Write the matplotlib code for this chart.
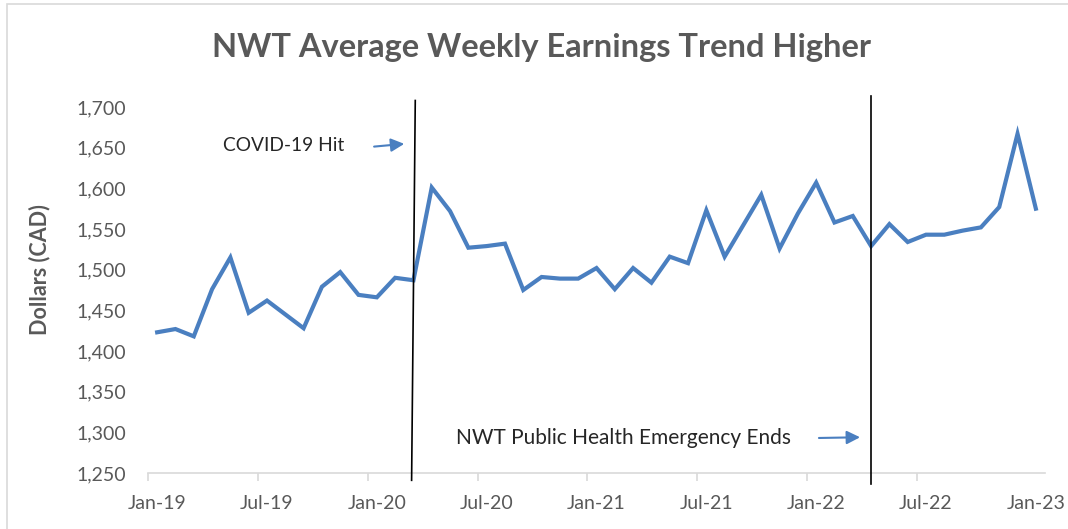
import matplotlib
matplotlib.use("Agg")
import matplotlib.pyplot as plt
from matplotlib.patches import Rectangle

BLUE = "#4a7fc0"
GRAY = "#595959"
AXIS_GRAY = "#d9d9d9"

# monthly average weekly earnings, Jan-2019 .. Jan-2023
earnings = [
    1423, 1427, 1418, 1476, 1515, 1447, 1462, 1445, 1428, 1479, 1497, 1469,
    1466, 1490, 1487, 1601, 1572, 1527, 1529, 1532, 1475, 1491, 1489, 1489,
    1502, 1476, 1502, 1484, 1516, 1508, 1573, 1516, 1554, 1592, 1526, 1569,
    1607, 1558, 1566, 1529, 1556, 1534, 1543, 1543, 1548, 1552, 1577, 1667,
    1575,
]
tick_labels = ["Jan-19", "Jul-19", "Jan-20", "Jul-20", "Jan-21",
               "Jul-21", "Jan-22", "Jul-22", "Jan-23"]
y_ticks = list(range(1250, 1701, 50))

covid_idx = 14      # Mar-20
phe_end_idx = 39    # Apr-22

fig = plt.figure(figsize=(10.68, 5.29), dpi=100)
fig.patches.append(Rectangle((7 / 1068, -0.1), 1.2, 1 - 4 / 529 + 0.1,
                             transform=fig.transFigure, fill=False,
                             edgecolor=AXIS_GRAY, linewidth=1.2))

ax = fig.add_axes([148 / 1068, 1 - 473 / 529, 897 / 1068, 366 / 529])
x = list(range(len(earnings)))
ax.plot(x, earnings, color=BLUE, linewidth=3, solid_joinstyle="miter", zorder=3)

ax.set_xlim(-0.5, len(earnings) - 0.5)
ax.set_ylim(1250, 1700)

ax.set_xticks(list(range(0, len(earnings), 6)))
ax.set_xticklabels(tick_labels)
ax.set_xticks([i - 0.5 for i in range(0, len(earnings) - 1, 6)], minor=True)
ax.tick_params(axis="x", which="major", length=0, pad=16,
               labelsize=14, labelcolor=GRAY, labelfontfamily="Lato")
ax.tick_params(axis="x", which="minor", length=6, color=AXIS_GRAY, width=1.2)
ax.set_yticks(y_ticks)
ax.set_yticklabels([f"{v:,}" for v in y_ticks])
ax.tick_params(axis="y", length=0, pad=16, labelsize=14, labelcolor=GRAY,
               labelfontfamily="Lato")

for s in ["top", "right", "left"]:
    ax.spines[s].set_visible(False)
ax.spines["bottom"].set_color(AXIS_GRAY)
ax.spines["bottom"].set_linewidth(1.2)

fig.text(40 / 1068, 1 - 270 / 529, "Dollars (CAD)", rotation=90,
         ha="center", va="center", fontsize=15.5, fontweight="bold",
         color=GRAY, family="Lato")

# event lines
ax.plot([covid_idx - 0.1, covid_idx + 0.1], [1241, 1708], color="black",
        linewidth=1.2, clip_on=False, zorder=4)
ax.plot([phe_end_idx, phe_end_idx], [1237, 1713], color="black",
        linewidth=1.2, clip_on=False, zorder=4)

# annotations
ax.text(3.6, 1653, "COVID-19 Hit", fontsize=13.8, color="#262626",
        family="Lato", va="center", ha="left")
ax.annotate("", xy=(covid_idx - 0.35, 1655), xytext=(covid_idx - 2.3, 1651),
            arrowprops=dict(arrowstyle="-|>", color=BLUE, lw=1.5,
                            mutation_scale=20))
ax.text(16.3, 1293, "NWT Public Health Emergency Ends", fontsize=15,
        color="#262626", family="Lato", va="center", ha="left")
ax.annotate("", xy=(phe_end_idx - 0.45, 1294), xytext=(phe_end_idx - 3.0, 1293),
            arrowprops=dict(arrowstyle="-|>", color=BLUE, lw=1.5,
                            mutation_scale=20))

fig.text(542 / 1068, 1 - 47 / 529, "NWT Average Weekly Earnings Trend Higher",
         ha="center", va="center", fontsize=23.5, fontweight="bold",
         color=GRAY, family="Lato")

fig.savefig("out.png", dpi=100, facecolor="white")
